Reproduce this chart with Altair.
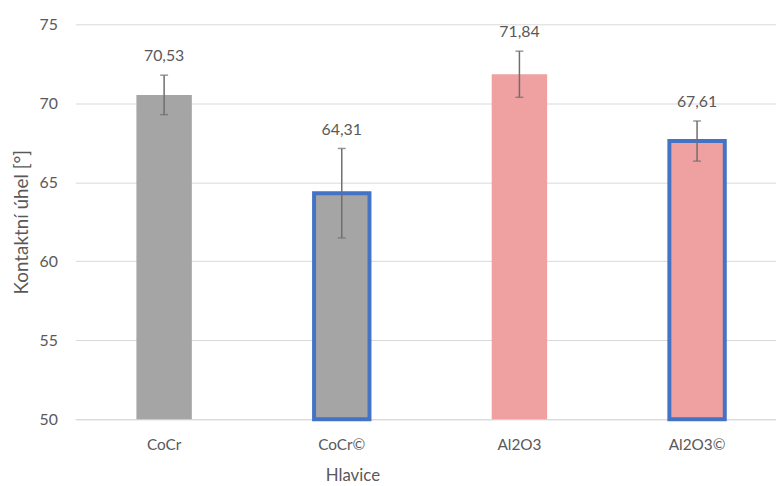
import altair as alt
import pandas as pd

categories = ["CoCr", "CoCr©", "Al2O3", "Al2O3©"]
values = [70.53, 64.31, 71.84, 67.61]
errors = [1.25, 2.83, 1.46, 1.27]
materials = ["CoCr", "CoCr", "Al2O3", "Al2O3"]
coated = [False, True, False, True]

df = pd.DataFrame({
    "cat": categories,
    "val": values,
    "err": errors,
    "mat": materials,
    "coated": coated,
})
df["lo"] = df["val"] - df["err"]
df["hi"] = df["val"] + df["err"]
df["label"] = [f"{v:.2f}".replace(".", ",") for v in values]

FONT = "Lato"
TXT = "#595959"

x = alt.X("cat:N", sort=categories,
          scale=alt.Scale(range=[0, 718]),
          axis=alt.Axis(title="Hlavice", labelAngle=0, ticks=False,
                        domainColor="#D9D9D9", domainWidth=1,
                        labelFont=FONT, labelFontSize=15.5, labelColor=TXT,
                        labelPadding=19,
                        titleFont=FONT, titleFontSize=17, titleColor=TXT,
                        titleFontWeight="normal", titleX=280, titleY=62,
                        titleAnchor="middle", titleBaseline="alphabetic"))

yscale = alt.Scale(domain=[50, 75], nice=False, zero=False)

bars = alt.Chart(df).mark_bar(size=56).encode(
    x=x,
    y=alt.Y("val:Q", scale=yscale,
            axis=alt.Axis(title="Kontaktní úhel [°]", values=[50, 55, 60, 65, 70, 75],
                          ticks=False, domain=False, gridColor="#D9D9D9", gridWidth=1,
                          labelFont=FONT, labelFontSize=16, labelColor=TXT,
                          labelPadding=18,
                          titleFont=FONT, titleFontSize=19, titleColor=TXT,
                          titleFontWeight="normal", titlePadding=8)),
    y2=alt.datum(50),
    color=alt.Color("mat:N", scale=alt.Scale(domain=["CoCr", "Al2O3"],
                                             range=["#A5A5A5", "#EFA0A0"]), legend=None),
    stroke=alt.condition("datum.coated", alt.value("#4472C4"), alt.value(None)),
    strokeWidth=alt.condition("datum.coated", alt.value(4), alt.value(0)),
)

rules = alt.Chart(df).mark_rule(color="#6E6E6E", strokeWidth=1.5).encode(
    x=alt.X("cat:N", sort=categories), y=alt.Y("lo:Q", scale=yscale), y2="hi:Q")

tick_lo = alt.Chart(df).mark_tick(color="#6E6E6E", size=8, thickness=1.5).encode(
    x=alt.X("cat:N", sort=categories), y=alt.Y("lo:Q", scale=yscale))
tick_hi = alt.Chart(df).mark_tick(color="#6E6E6E", size=8, thickness=1.5).encode(
    x=alt.X("cat:N", sort=categories), y=alt.Y("hi:Q", scale=yscale))

labels = alt.Chart(df).mark_text(font=FONT, fontSize=16, color=TXT, dy=-19,
                                 baseline="middle").encode(
    x=alt.X("cat:N", sort=categories), y=alt.Y("hi:Q", scale=yscale), text="label:N")

chart = alt.layer(bars, rules, tick_lo, tick_hi, labels).properties(
    width=708, height=399,
    autosize=alt.AutoSizeParams(type="none"),
    padding={"left": 68, "top": 14, "right": 0, "bottom": 64},
).configure_view(stroke=None)

chart.save("out.html", embed_options={"renderer": "svg", "actions": False})
